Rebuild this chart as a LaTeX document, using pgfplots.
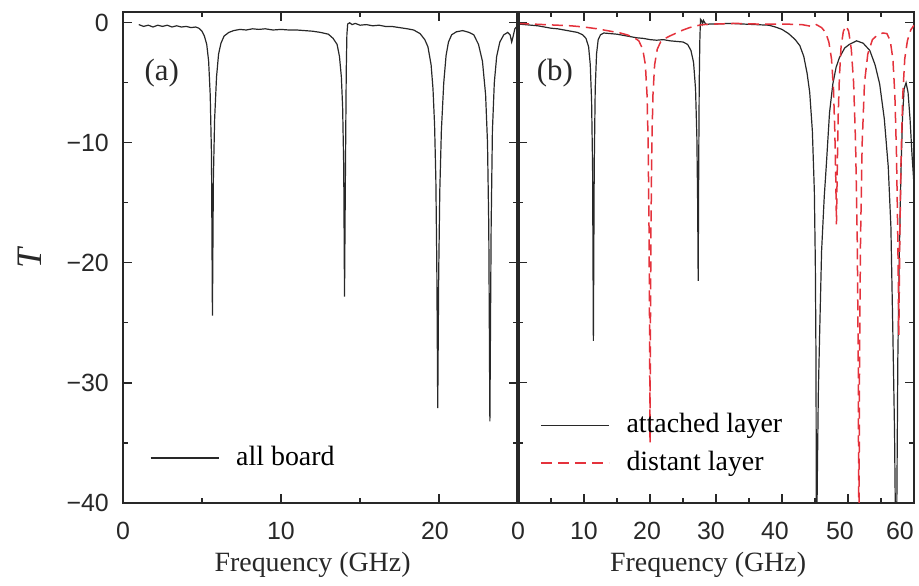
\documentclass[border=0pt]{standalone}
\usepackage{pgfplots}
\pgfplotsset{compat=1.18}
\usepackage{fontspec}
\setmainfont{Liberation Serif}
\newfontfamily\tickfont{Liberation Sans}
\definecolor{dkred}{RGB}{228,50,60}
\definecolor{frame}{RGB}{40,40,40}
\newcommand{\sh}[2]{\makebox[0pt]{#2\hspace*{#1bp}}}
\pgfplotsset{
  panel/.style={
    scale only axis, height=491bp, ymin=-40, ymax=0.9,
    axis line style={frame, line width=1.3bp},
    every tick/.style={frame, line width=1.1bp},
    major tick length=9bp, minor tick length=5bp,
    tick align=inside,
    ytick={-40,-30,-20,-10,0}, minor ytick={-35,-25,-15,-5},
    ticklabel style={font=\tickfont\fontsize{25}{25}\selectfont, text=frame},
    xticklabel style={anchor=base, yshift=-36bp, inner sep=0pt},
    yticklabel style={anchor=east, xshift=-14bp, inner sep=0pt},
    label style={font=\fontsize{28}{28}\selectfont, text=frame},
    xlabel style={at={(axis description cs:0.48,0)}, anchor=base, yshift=-68bp},
    legend style={draw=none, fill=none, inner sep=0pt, outer sep=0pt,
      row sep=12bp, column sep=17bp, font=\fontsize{28}{28}\selectfont,
      nodes={inner sep=0pt, text height=20bp, text depth=6bp},
      cells={anchor=west}},
    legend image code/.code={\draw[##1] (0bp,0bp) -- (68bp,0bp);},
  },
  blk/.style={color=frame, line width=1.2bp},
  rdd/.style={color=dkred, line width=1.5bp, dash pattern=on 11bp off 6bp},
}
\begin{document}
\begin{tikzpicture}
\useasboundingbox (-123bp,-83bp) rectangle (796bp,503bp);
\begin{axis}[panel, name=a, at={(0bp,0bp)}, anchor=south west,
  width=395bp, xmin=0, xmax=25,
  xtick={0,10,20}, minor xtick={5,15},
  xticklabels={0,10,\sh{8}{20}},
  yticklabels={−40,−30,−20,−10,0},
  xlabel={Frequency (GHz)},
  ylabel={\textit{T}},
  ylabel style={at={(axis description cs:-0.2355,0.5)}, anchor=center, font=\fontsize{36}{36}\selectfont},
  legend style={at={(rel axis cs:0.0684,0.118)}, anchor=north west},
]
\addplot[blk] coordinates {
(1.0,-0.15)(1.3,-0.3)(1.6,-0.2)(1.9,-0.35)(2.2,-0.2)(2.5,-0.3)(2.8,-0.2)(3.1,-0.35)(3.4,-0.25)(3.7,-0.35)(4.0,-0.3)(4.3,-0.4)(4.6,-0.35)(4.8,-0.45)
(5.0,-0.7)(5.15,-1.1)(5.3,-1.8)(5.42,-3.2)(5.52,-6)(5.6,-11)(5.66,-24.4)(5.72,-13)(5.8,-8)(5.92,-4.5)(6.05,-2.6)(6.2,-1.7)(6.4,-1.1)(6.7,-0.8)
(7.0,-0.65)(7.4,-0.55)(7.8,-0.6)(8.2,-0.5)(8.6,-0.55)(9.0,-0.5)(9.5,-0.6)(10.0,-0.55)(10.5,-0.6)(11.0,-0.6)(11.5,-0.65)(12.0,-0.7)(12.5,-0.8)
(13.0,-0.95)(13.3,-1.3)(13.55,-1.8)(13.7,-2.8)(13.82,-4.5)(13.9,-7)(13.97,-12)(14.02,-22.8)(14.08,-12)(14.13,-4)(14.17,-1.0)(14.22,-0.1)
(14.35,0)(14.5,-0.15)(14.7,-0.05)(15.0,-0.2)(15.4,-0.15)(15.8,-0.25)(16.2,-0.2)(16.6,-0.3)(17.0,-0.3)(17.5,-0.4)(18.0,-0.5)
(18.4,-0.6)(18.8,-0.9)(19.1,-1.4)(19.3,-2.0)(19.5,-3.5)(19.62,-5.5)(19.72,-8.5)(19.8,-13)(19.86,-20)(19.92,-32.1)(19.98,-21)(20.05,-14)(20.15,-9)(20.3,-5)(20.45,-2.7)(20.6,-1.6)(20.8,-1.0)(21.1,-0.75)(21.5,-0.65)(21.9,-0.8)
(22.2,-1.0)(22.5,-1.8)(22.75,-3.2)(22.95,-6)(23.07,-10)(23.15,-17)(23.22,-33.2)(23.3,-17)(23.38,-9)(23.5,-5)(23.65,-2.8)(23.85,-1.6)(24.1,-1.0)(24.35,-0.8)(24.5,-1.0)(24.6,-1.6)(24.68,-1.2)(24.8,-0.5)(25.0,-0.2)
};
\addlegendentry{all board}
\node[font=\fontsize{31}{31}\selectfont, text=frame] at (axis cs:2.45,-4.15) {(a)};
\end{axis}
\begin{axis}[panel, name=b, at={(395bp,0bp)}, anchor=south west,
  width=396bp, xmin=0, xmax=60,
  xtick={0,10,20,30,40,50,60}, minor xtick={5,15,25,35,45,55},
  xticklabels={0,10,\sh{6}{20},\sh{10}{30},\sh{14}{40},\sh{16}{50},\sh{28}{60}},
  yticklabels={,,,,},
  xlabel={Frequency (GHz)},
  legend style={at={(rel axis cs:0.0556,0.185)}, anchor=north west},
]
\addplot[blk] coordinates {
(0,-0.1)(1,-0.15)(2,-0.2)(3,-0.25)(4,-0.35)(5,-0.45)(6,-0.5)(7,-0.6)(8,-0.7)(9,-0.8)(9.8,-1.0)(10.3,-1.3)(10.7,-2.0)(10.95,-3.5)(11.15,-6.5)(11.3,-12)(11.42,-26.5)(11.55,-12)(11.7,-5.5)(11.9,-2.6)(12.15,-1.4)(12.5,-1.0)
(13,-0.85)(14,-0.9)(15,-0.95)(16,-1.05)(17,-1.15)(18,-1.25)(19,-1.3)(20,-1.4)(21,-1.45)(22,-1.4)(23,-1.5)(24,-1.55)(25,-1.6)(25.7,-1.8)(26.2,-2.3)(26.6,-3.3)(26.9,-5.5)(27.1,-9.5)(27.22,-15)(27.3,-21.5)(27.38,-12)(27.46,-5)(27.55,-1.5)(27.65,0.3)(27.8,0.2)(27.95,-0.1)(28.1,0.2)(28.3,0)(28.6,-0.15)
(29,-0.1)(30,-0.1)(32,-0.05)(34,-0.1)(36,-0.15)(38,-0.2)(39,-0.35)(40,-0.55)(41,-0.9)(42,-1.4)(42.7,-1.9)(43.3,-2.8)(43.8,-4.2)(44.2,-5.8)(44.6,-9)(44.9,-14)(45.05,-20)(45.15,-28)(45.22,-45)
(45.35,-38)(45.5,-31)(45.7,-26)(46.0,-19)(46.4,-14.5)(46.7,-12)(47.2,-7.5)(47.7,-5.1)(48.2,-3.7)(48.7,-2.9)(49.5,-2.1)(50.2,-1.8)(51.3,-1.5)(52.3,-1.7)(53.3,-2.3)(54.1,-3.5)(54.8,-5.1)(55.5,-8)(56.1,-12)(56.5,-17)(56.8,-25.9)(57.05,-34)(57.25,-45)
(57.4,-40)(57.55,-28)(57.75,-20)(58.0,-13)(58.25,-8)(58.5,-5.5)(58.8,-5.0)(59.1,-5.8)(59.4,-8)(59.7,-11)(60,-13.5)
};
\addlegendentry{attached layer}
\addplot[rdd] coordinates {
(0,-0.05)(2,-0.1)(4,-0.15)(6,-0.2)(8,-0.25)(10,-0.35)(12,-0.5)(14,-0.7)(15.5,-0.85)(16.5,-1.0)(17.5,-1.2)(18.3,-1.5)(18.9,-2.2)(19.3,-3.5)(19.55,-6)(19.72,-10)(19.85,-17)(19.93,-25)(20.0,-35)(20.07,-25)(20.15,-17)(20.28,-10)(20.45,-6)(20.7,-3.5)(21.1,-2.2)(21.6,-1.6)(22.3,-1.3)(23,-1.1)(24,-0.85)(25,-0.6)(26,-0.4)(27,-0.25)(28,-0.15)
(30,-0.1)(33,-0.05)(36,-0.1)(40,-0.1)(43,-0.15)(44.5,-0.3)(45.2,-0.15)(46.0,-0.4)(46.6,-0.8)(47.1,-1.6)(47.5,-3)(47.8,-5.5)(48.0,-9)(48.15,-13)(48.25,-16.8)(48.35,-13)(48.5,-8)(48.7,-4.5)(48.95,-2)(49.3,-0.7)(49.7,-0.25)
(50.1,-0.7)(50.5,-2.2)(50.85,-5)(51.15,-10)(51.4,-18)(51.55,-28)(51.65,-45)(51.75,-28)(51.9,-18)(52.15,-10)(52.5,-5)(53,-2.6)(53.7,-1.4)(54.5,-1.0)(55.3,-0.85)(55.9,-0.9)(56.4,-1.5)(56.8,-3)(57.1,-6)(57.35,-11)(57.55,-18)(57.7,-26)(57.85,-18)(58.05,-11)(58.3,-6)(58.6,-3)(59.0,-1.5)(59.5,-0.6)(60,-0.2)
};
\addlegendentry{distant layer}
\node[font=\fontsize{31}{31}\selectfont, text=frame] at (axis cs:5.6,-4.15) {(b)};
\end{axis}
\draw[frame, line width=3.5bp] (a.south east) -- (a.north east);
\end{tikzpicture}
\end{document}
